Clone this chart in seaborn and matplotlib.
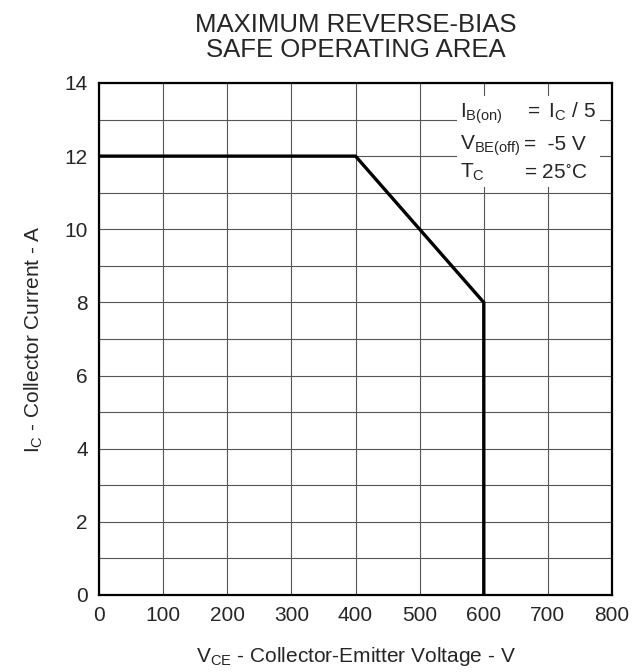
import matplotlib
matplotlib.use('Agg')
import matplotlib.pyplot as plt
from matplotlib.patches import Rectangle
import pandas as pd
import seaborn as sns

# safe operating area boundary
vce = [0, 400, 600, 600]
ic = [12, 12, 8, 0]

x_ticks = [0, 100, 200, 300, 400, 500, 600, 700, 800]
y_ticks = [0, 2, 4, 6, 8, 10, 12, 14]
y_grid = list(range(0, 15))

notes_left = [r'$\mathregular{I_{B(on)}}$', r'$\mathregular{V_{BE(off)}}$', r'$\mathregular{T_C}$']
notes_right = [r'$\mathregular{=\ I_C\ /\ 5}$', r'=  -5 V', r'= 25$\mathregular{^{\circ}}$C']

sns.set_style('white')
plt.rcParams['font.family'] = ['Liberation Sans', 'DejaVu Sans']
plt.rcParams['mathtext.fontset'] = 'custom'
plt.rcParams['mathtext.rm'] = 'Liberation Sans'
plt.rcParams['mathtext.it'] = 'Liberation Sans'

df = pd.DataFrame({'VCE': vce, 'IC': ic})

fig = plt.figure(figsize=(6.41, 6.72), dpi=100)
ax = fig.add_axes([0.1545, 0.1146, 0.8003, 0.7619])

# estimator=None so the vertical drop at 600 V isn't averaged away
sns.lineplot(data=df, x='VCE', y='IC', sort=False, estimator=None, color='black',
             linewidth=2.4, ax=ax, zorder=4, solid_joinstyle='miter')

ax.set_xlim(0, 800)
ax.set_ylim(0, 14)
ax.set_xticks(x_ticks)
ax.set_yticks(y_ticks)
ax.set_yticks(y_grid, minor=True)
ax.grid(True, which='both', color='#555555', linewidth=0.8)
ax.set_axisbelow(True)
ax.tick_params(axis='both', which='both', length=0, labelsize=15, pad=8)

for s in ax.spines.values():
    s.set_visible(True)
    s.set_color('black')
    s.set_linewidth(1.6)
    s.set_zorder(5)

# white box behind the test conditions
ax.add_patch(Rectangle((558, 11.15), 224, 2.49, facecolor='white', edgecolor='none', zorder=2))
row_y = [13.04, 12.17, 11.40]
for lbl, val, yy in zip(notes_left, notes_right, row_y):
    ax.text(563, yy, lbl, fontsize=15, va='baseline', ha='left', zorder=3)
    ax.text(663, yy, val, fontsize=15, va='baseline', ha='left', zorder=3)

ax.set_title('MAXIMUM REVERSE-BIAS\nSAFE OPERATING AREA', fontsize=18.5, pad=19, linespacing=1.05)
ax.set_xlabel(r'$\mathregular{V_{CE}}$ - Collector-Emitter Voltage - V', fontsize=15, labelpad=14)
ax.set_ylabel(r'$\mathregular{I_C}$ - Collector Current - A', fontsize=15, labelpad=14)

plt.savefig('out.png', dpi=100)
